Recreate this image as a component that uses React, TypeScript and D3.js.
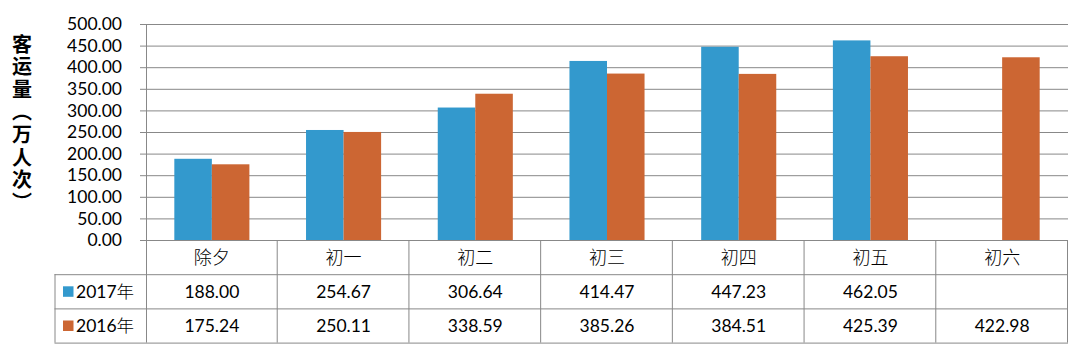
import React from "react";
import * as d3 from "d3";

const categories = ["除夕", "初一", "初二", "初三", "初四", "初五", "初六"];
const series2017: (number | null)[] = [188.0, 254.67, 306.64, 414.47, 447.23, 462.05, null];
const series2016: (number | null)[] = [175.24, 250.11, 338.59, 385.26, 384.51, 425.39, 422.98];
const seriesNames = ["2017年", "2016年"];
const yTicks = [0, 50, 100, 150, 200, 250, 300, 350, 400, 450, 500];
const yTitle = "客运量（万人次）";

const W = 1090;
const H = 364;
const left = 146;
const right = 1068;
const top = 24;
const zero = 240;
const rowH = 34.2;
const tableLeft = 54.5;
const colors = ["#3399CD", "#CC6633"];
const gridColor = "#888888";
const numFont = "Lato, 'Open Sans', sans-serif";
const cjkFont = "'Noto Sans CJK SC', sans-serif";

export default function App() {
  const x = d3.scaleBand<string>().domain(categories).range([left, right]).paddingInner(0).paddingOuter(0);
  const y = d3.scaleLinear().domain([0, 500]).range([zero, top]);
  const bw = x.bandwidth();
  const barW = bw * 0.285;
  const fmt = d3.format(".2f");
  const allSeries = [series2017, series2016];

  return (
    <svg width={W} height={H} style={{ position: "absolute", left: 0, top: 0 }}>
      <rect x={0} y={0} width={W} height={H} fill="#ffffff" />
      {/* gridlines */}
      {yTicks.map((t) => (
        <line key={"g" + t} x1={left - 6} x2={right} y1={y(t) + 0.5} y2={y(t) + 0.5} stroke={gridColor} strokeWidth={1} />
      ))}
      {/* tick labels */}
      {yTicks.map((t) => (
        <text key={"t" + t} x={left - 24} y={y(t)} dy="0.35em" textAnchor="end" fontFamily={numFont} fontSize={17.5} fill="#000">
          {fmt(t)}
        </text>
      ))}
      {/* bars */}
      {allSeries.map((s, si) =>
        s.map((v, i) =>
          v == null ? null : (
            <rect
              key={`b${si}-${i}`}
              x={(x(categories[i]) as number) + bw / 2 - barW + si * barW}
              y={y(v)}
              width={barW}
              height={zero - y(v)}
              fill={colors[si]}
            />
          )
        )
      )}
      {/* left axis line */}
      <line x1={left + 0.5} x2={left + 0.5} y1={top} y2={zero + rowH * 3} stroke={gridColor} />
      {/* table horizontal lines */}
      <line x1={tableLeft} x2={right} y1={zero + rowH + 0.5} y2={zero + rowH + 0.5} stroke={gridColor} />
      <line x1={tableLeft} x2={right} y1={zero + rowH * 2 + 0.5} y2={zero + rowH * 2 + 0.5} stroke={gridColor} />
      <line x1={tableLeft} x2={right} y1={zero + rowH * 3 + 0.5} y2={zero + rowH * 3 + 0.5} stroke={gridColor} />
      <line x1={tableLeft + 0.5} x2={tableLeft + 0.5} y1={zero + rowH} y2={zero + rowH * 3} stroke={gridColor} />
      {/* table vertical lines */}
      {categories.map((c) => (
        <line
          key={"v" + c}
          x1={(x(c) as number) + bw - 0.5}
          x2={(x(c) as number) + bw - 0.5}
          y1={zero}
          y2={zero + rowH * 3}
          stroke={gridColor}
        />
      ))}
      {/* category labels */}
      {categories.map((c) => (
        <text key={"c" + c} x={(x(c) as number) + bw / 2} y={zero + rowH / 2} dy="0.36em" textAnchor="middle" fontFamily={cjkFont} fontSize={18} fontWeight={300} fill="#000">
          {c}
        </text>
      ))}
      {/* legend keys and series names */}
      {seriesNames.map((n, si) => (
        <g key={"l" + n}>
          <rect x={63} y={zero + rowH * (si + 1) + rowH / 2 - 5} width={10.5} height={10.5} fill={colors[si]} />
          <text x={76} y={zero + rowH * (si + 1) + rowH / 2} dy="0.36em" fontFamily={numFont} fontSize={17.5} fill="#000">
            {n.slice(0, 4)}
            <tspan fontFamily={cjkFont} fontWeight={300}>{n.slice(4)}</tspan>
          </text>
        </g>
      ))}
      {/* table values */}
      {allSeries.map((s, si) =>
        s.map((v, i) =>
          v == null ? null : (
            <text
              key={`v${si}-${i}`}
              x={(x(categories[i]) as number) + bw / 2}
              y={zero + rowH * (si + 1) + rowH / 2}
              dy="0.36em"
              textAnchor="middle"
              fontFamily={numFont}
              fontSize={17.5}
              fill="#000"
            >
              {fmt(v)}
            </text>
          )
        )
      )}
      {/* y title, vertical */}
      <text
        x={22}
        y={34}
        fontFamily={cjkFont}
        fontWeight={700}
        fontSize={20}
        fill="#000"
        letterSpacing={2.6}
        style={{ writingMode: "vertical-rl" as any }}
      >
        {yTitle}
      </text>
    </svg>
  );
}
